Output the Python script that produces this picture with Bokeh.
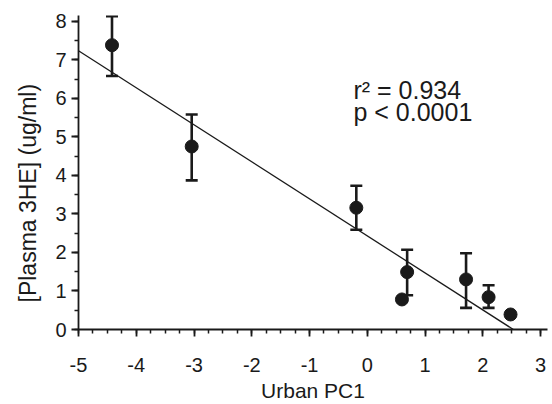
import numpy as np
from bokeh.plotting import figure
from bokeh.models import FixedTicker, Label, Title, ColumnDataSource
from bokeh.embed import file_html
from bokeh.resources import INLINE

# ---- data ----
urban_pc1 = [-4.42, -3.04, -0.19, 0.69, 0.60, 1.71, 2.10, 2.48]
plasma_3he = [7.38, 4.75, 3.16, 1.49, 0.78, 1.30, 0.84, 0.39]
err_upper = [8.13, 5.58, 3.73, 2.07, np.nan, 1.98, 1.15, np.nan]
err_lower = [6.58, 3.87, 2.59, 0.89, np.nan, 0.56, 0.56, np.nan]

fit_slope = -0.961
fit_intercept = 2.43

x_ticks = [-5, -4, -3, -2, -1, 0, 1, 2, 3]
y_ticks = [0, 1, 2, 3, 4, 5, 6, 7, 8]

x_title = "Urban PC1"
y_title = "[Plasma 3HE] (ug/ml)"
annot_r2 = "r\u00b2 = 0.934"
annot_p = "p < 0.0001"

INK = "#1a1a1a"
FONT = "Liberation Sans"

p = figure(width=548, height=404, x_range=(-5, 3.12), y_range=(0, 8.15),
           output_backend="svg", toolbar_location=None,
           min_border_left=77, min_border_top=15, min_border_right=1,
           min_border_bottom=75)
p.outline_line_color = None
p.xgrid.visible = False
p.ygrid.visible = False
p.background_fill_color = "white"
p.border_fill_color = "white"

# regression line from the y axis to where it reaches zero
x_start = -5
x_end = -fit_intercept / fit_slope
p.line([x_start, x_end], [fit_intercept + fit_slope * x_start, 0],
       line_color=INK, line_width=1.3)

# error bars
ex, eu, el = [], [], []
for xv, u, l in zip(urban_pc1, err_upper, err_lower):
    if not (np.isnan(u) or np.isnan(l)):
        ex.append(xv); eu.append(u); el.append(l)
src_e = ColumnDataSource(dict(x=ex, upper=eu, lower=el))
p.segment(x0="x", y0="lower", x1="x", y1="upper", source=src_e,
          line_color=INK, line_width=2.6)
p.scatter(x="x", y="upper", source=src_e, marker="dash", size=12,
          line_color=INK, line_width=2.6)
p.scatter(x="x", y="lower", source=src_e, marker="dash", size=12,
          line_color=INK, line_width=2.6)

# points
p.scatter(urban_pc1, plasma_3he, marker="circle", size=13,
          fill_color=INK, line_color=INK)

# annotations
p.add_layout(Label(x=-0.24, y=6.21, text=annot_r2, text_font=FONT,
                   text_font_size="25px", text_color=INK,
                   text_baseline="alphabetic"))
p.add_layout(Label(x=-0.24, y=5.65, text=annot_p, text_font=FONT,
                   text_font_size="25px", text_color=INK,
                   text_baseline="alphabetic"))

# y-axis title, starting a little above the frame bottom as in the original
p.add_layout(Title(text=y_title, align="left", offset=27, standoff=24,
                   text_font=FONT, text_font_size="23px",
                   text_font_style="normal", text_color=INK), "left")

# axes
p.xaxis.ticker = FixedTicker(ticks=x_ticks,
                             minor_ticks=list(np.arange(-5, 3.01, 0.25)))
p.yaxis.ticker = FixedTicker(ticks=y_ticks,
                             minor_ticks=list(np.arange(0, 8.01, 0.5)))
p.xaxis.major_label_overrides = {t: str(t) for t in x_ticks}
p.yaxis.major_label_overrides = {t: str(t) for t in y_ticks}
for ax in (p.xaxis[0], p.yaxis[0]):
    ax.axis_line_color = INK
    ax.axis_line_width = 1.8
    ax.major_tick_line_color = INK
    ax.major_tick_line_width = 1.8
    ax.minor_tick_line_color = INK
    ax.minor_tick_line_width = 1.5
    ax.major_tick_in = 0
    ax.major_tick_out = 7
    ax.minor_tick_in = 0
    ax.minor_tick_out = 4
    ax.major_label_text_font = FONT
    ax.major_label_text_font_size = "20px"
    ax.major_label_text_color = INK

p.xaxis.axis_label = x_title
p.xaxis.axis_label_text_font = FONT
p.xaxis.axis_label_text_font_style = "normal"
p.xaxis.axis_label_text_color = INK
p.xaxis.axis_label_text_font_size = "21px"
p.xaxis.major_label_standoff = 21
p.xaxis.axis_label_standoff = 4
p.yaxis.major_label_standoff = 5

open("out.html", "w").write(file_html(p, INLINE))
